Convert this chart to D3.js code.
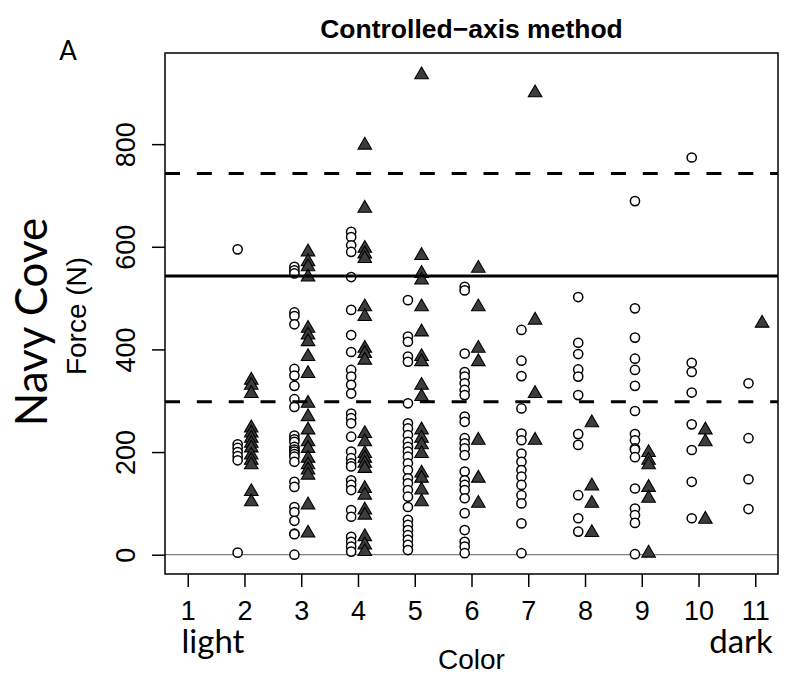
<!DOCTYPE html>
<html><head><meta charset="utf-8">
<script src="https://cdn.jsdelivr.net/npm/d3@7"></script>
<style>body{margin:0;background:#fff}</style>
</head><body>
<script>
// ---- data ----
const colorLevels = [1,2,3,4,5,6,7,8,9,10,11];
const yTicks = [0,200,400,600,800];
// open circles, one array per colour level 1..11
const circleForce = [
  [],
  [595,215,208,200,192,184,4],
  [561,554,548,472,465,449,362,349,329,303,288,232,225,220,210,205,201,196,191,181,142,132,93,83,66,41,40,0],
  [629,619,603,590,541,477,428,395,360,347,331,314,275,266,256,230,201,188,178,172,145,136,126,87,74,35,25,16,6],
  [496,425,415,386,376,295,256,246,233,220,210,201,191,178,165,149,139,126,113,93,68,58,48,38,29,19,9],
  [522,515,392,356,347,334,321,311,269,259,227,217,207,194,162,145,136,126,110,81,48,25,16,3],
  [438,378,348,285,236,223,197,181,165,152,136,116,100,61,3],
  [502,413,391,361,347,311,235,214,116,71,45],
  [689,480,423,382,360,329,280,235,223,207,205,190,129,90,77,62,1],
  [774,374,356,316,254,204,142,71],
  [334,227,147,89]
];
// filled triangles, one array per colour level 1..11
const triangleForce = [
  [],
  [340,330,314,247,237,227,217,208,194,184,175,123,103],
  [590,571,561,541,441,428,415,386,353,295,269,243,220,207,188,175,165,155,97,42],
  [798,675,597,586,577,483,464,402,392,379,236,220,197,188,178,168,129,116,87,77,35,19,6],
  [935,583,548,535,483,434,386,376,330,308,243,227,214,197,159,149,126,103],
  [558,483,402,376,223,149,100],
  [900,457,314,223],
  [257,134,100,43],
  [199,184,175,131,110,3],
  [243,220,69],
  [451]
];
const refLines = [298, 543, 743];
const refStyle = ["dashed","solid","dashed"];
const circleOffset = -0.12, triangleOffset = 0.12;

// ---- layout ----
const W = 791, H = 677;
const P = {left:165, right:778, top:53, bottom:574};
const helv = "'Liberation Sans', Arial, Helvetica, sans-serif";
const humanist = "Lato, 'Open Sans', sans-serif";

const svg = d3.select("body").append("svg").attr("width", W).attr("height", H)
  .style("background", "#fff");

const x = d3.scaleLinear().domain([0.6, 11.4]).range([P.left, P.right]);
const y = d3.scaleLinear().domain([-37.6, 977.6]).range([P.bottom, P.top]);

// zero line (grey)
svg.append("line").attr("x1", P.left).attr("x2", P.right)
  .attr("y1", y(0)).attr("y2", y(0)).attr("stroke", "#7f7f7f").attr("stroke-width", 1.2);

// points
const circData = [], triData = [];
circleForce.forEach((arr, i) => arr.forEach(v => circData.push({c: colorLevels[i], v})));
triangleForce.forEach((arr, i) => arr.forEach(v => triData.push({c: colorLevels[i], v})));

svg.append("g").selectAll("circle").data(circData).join("circle")
  .attr("cx", d => x(d.c + circleOffset)).attr("cy", d => y(d.v)).attr("r", 4.6)
  .attr("fill", "#fff").attr("stroke", "#000").attr("stroke-width", 1.5);

const tri = d3.symbol().type(d3.symbolTriangle).size(80);
svg.append("g").selectAll("path").data(triData).join("path")
  .attr("d", tri).attr("transform", d => `translate(${x(d.c + triangleOffset)},${y(d.v)})`)
  .attr("fill", "#3c3c3c").attr("stroke", "#000").attr("stroke-width", 1.1);

// reference lines
svg.append("g").selectAll("line").data(refLines).join("line")
  .attr("x1", P.left).attr("x2", P.right)
  .attr("y1", d => y(d)).attr("y2", d => y(d))
  .attr("stroke", "#000").attr("stroke-width", 3)
  .attr("stroke-dasharray", (d, i) => refStyle[i] === "dashed" ? "15,16.85" : null);

// box
svg.append("rect").attr("x", P.left).attr("y", P.top)
  .attr("width", P.right - P.left).attr("height", P.bottom - P.top)
  .attr("fill", "none").attr("stroke", "#000").attr("stroke-width", 1.5);

// y axis
const gy = svg.append("g").attr("transform", `translate(${P.left},0)`)
  .call(d3.axisLeft(y).tickValues(yTicks).tickSize(13).tickFormat(d3.format("d")));
gy.select(".domain").remove();
gy.selectAll(".tick line").attr("stroke", "#000").attr("stroke-width", 1.5);
gy.selectAll(".tick text").attr("transform", "rotate(-90)")
  .attr("x", 0).attr("y", -30).attr("dy", 0).attr("text-anchor", "middle")
  .style("font-family", helv).style("font-size", "27px").attr("fill", "#000");

// x axis
const gx = svg.append("g").attr("transform", `translate(0,${P.bottom})`)
  .call(d3.axisBottom(x).tickValues(colorLevels).tickSize(13).tickFormat(d3.format("d")));
gx.select(".domain").remove();
gx.selectAll(".tick line").attr("stroke", "#000").attr("stroke-width", 1.5);
gx.selectAll(".tick text").attr("y", 46).attr("dy", 0)
  .style("font-family", helv).style("font-size", "27px").attr("fill", "#000");

// texts
svg.append("text").attr("x", (P.left + P.right) / 2).attr("y", 38)
  .attr("text-anchor", "middle").style("font-family", helv).style("font-weight", "bold")
  .style("font-size", "26.5px").text("Controlled\u2212axis method");
svg.append("text").attr("x", 68).attr("y", 60).attr("text-anchor", "middle")
  .style("font-family", humanist).style("font-size", "26px").text("A");
svg.append("text").attr("transform", `translate(47,322) rotate(-90)`)
  .attr("text-anchor", "middle").style("font-family", humanist).style("font-size", "44px").text("Navy Cove");
svg.append("text").attr("transform", `translate(86,316) rotate(-90)`)
  .attr("text-anchor", "middle").style("font-family", helv).style("font-size", "28px").text("Force (N)");
svg.append("text").attr("x", 213).attr("y", 653).attr("text-anchor", "middle")
  .style("font-family", humanist).style("font-size", "33px").text("light");
svg.append("text").attr("x", 741).attr("y", 653).attr("text-anchor", "middle")
  .style("font-family", humanist).style("font-size", "33px").text("dark");
svg.append("text").attr("x", (P.left + P.right) / 2).attr("y", 669).attr("text-anchor", "middle")
  .style("font-family", helv).style("font-size", "28px").text("Color");
</script>
</body></html>
